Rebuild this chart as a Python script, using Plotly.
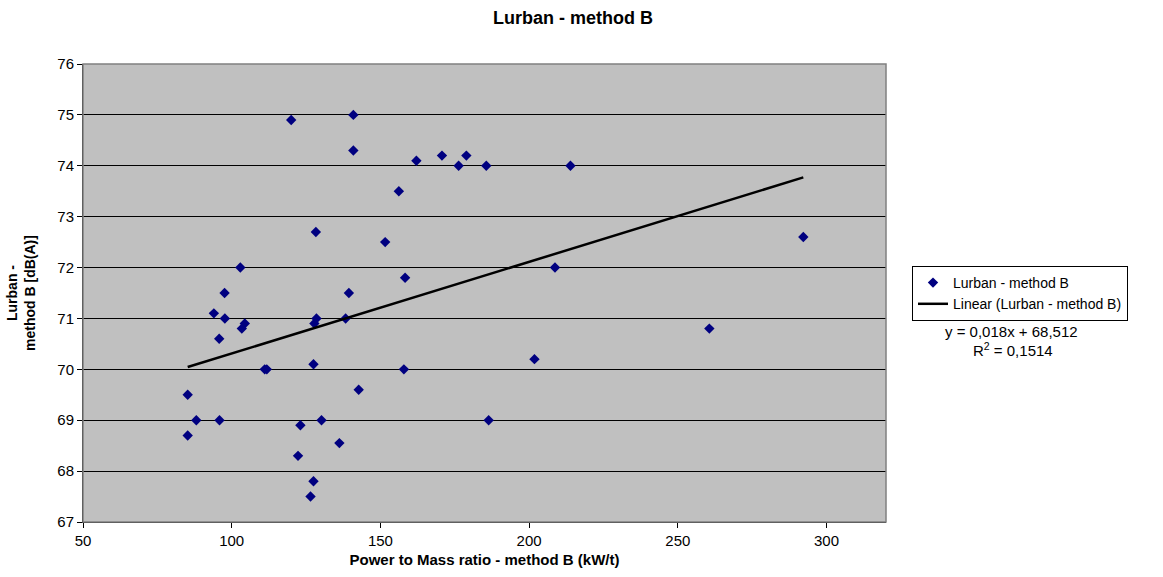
import numpy as np
import plotly.graph_objects as go

# Power to Mass ratio (kW/t) and Lurban (dB(A)) - method B
power_to_mass = [
    94.0, 97.7, 95.8, 103.4, 104.4, 111.1, 111.8, 128.5, 127.8, 138.3,
    127.5, 142.7, 85.2, 88.1, 95.9, 85.2, 123.1, 130.2, 122.3, 136.2,
    127.5, 126.5, 120.0, 140.9, 140.9, 128.3, 102.9, 97.6, 139.4, 151.6,
    156.2, 162.1, 170.7, 176.3, 178.9, 185.6, 213.9, 158.3, 208.7, 292.2,
    157.9, 201.8, 260.6, 186.4,
]
lurban = [
    71.1, 71.0, 70.6, 70.8, 70.9, 70.0, 70.0, 71.0, 70.9, 71.0,
    70.1, 69.6, 69.5, 69.0, 69.0, 68.7, 68.9, 69.0, 68.3, 68.55,
    67.8, 67.5, 74.9, 75.0, 74.3, 72.7, 72.0, 71.5, 71.5, 72.5,
    73.5, 74.1, 74.2, 74.0, 74.2, 74.0, 74.0, 71.8, 72.0, 72.6,
    70.0, 70.2, 70.8, 69.0,
]

# Linear trend line as given by the chart's equation
slope = 0.018
intercept = 68.512
r_squared = 0.1514

x_ticks = [50, 100, 150, 200, 250, 300]
y_ticks = [67, 68, 69, 70, 71, 72, 73, 74, 75, 76]

FONT = "Arial, Liberation Sans, sans-serif"

trend_x = np.array([min(power_to_mass), max(power_to_mass)])
trend_y = slope * trend_x + intercept

fig = go.Figure()
fig.add_trace(go.Scatter(
    x=power_to_mass, y=lurban, mode="markers",
    name="Lurban - method B",
    marker=dict(symbol="diamond", size=8, color="#000080"),
))
fig.add_trace(go.Scatter(
    x=trend_x, y=trend_y, mode="lines",
    name="Linear (Lurban - method B)",
    line=dict(color="black", width=2.5),
))

fig.update_layout(
    width=1163, height=577,
    margin=dict(l=83, r=277, t=64, b=55),
    paper_bgcolor="white",
    plot_bgcolor="#C0C0C0",
    font=dict(family=FONT, size=14, color="black"),
    title=dict(text="<b>Lurban - method B</b>", x=573 / 1163, xanchor="center",
               y=1 - 18 / 577, yanchor="middle", font=dict(size=18)),
    showlegend=True,
    legend=dict(
        x=(912 - 83) / 803, y=(522 - 266) / 458, xanchor="left", yanchor="top",
        bgcolor="white", bordercolor="black", borderwidth=1,
        font=dict(size=14), tracegroupgap=0, itemwidth=30,
    ),
    xaxis=dict(
        range=[50, 320], tickvals=x_ticks, showgrid=False, zeroline=False,
        showline=True, linecolor="black", linewidth=1,
        ticks="outside", ticklen=5, tickcolor="black",
        tickfont=dict(size=15),
        title=dict(text="<b>Power to Mass ratio - method B (kW/t)</b>", font=dict(size=15), standoff=6),
    ),
    yaxis=dict(
        range=[67, 76], tickvals=y_ticks, showgrid=True, gridcolor="black", gridwidth=1,
        zeroline=False, showline=True, linecolor="black", linewidth=1,
        ticks="outside", ticklen=5, tickcolor="black",
        tickfont=dict(size=15),
        title=dict(text="<b>Lurban -<br>method B [dB(A)]</b>", font=dict(size=14), standoff=18),
    ),
    shapes=[dict(type="rect", xref="paper", yref="paper", x0=0, y0=0, x1=1, y1=1,
                 line=dict(color="#808080", width=1.5), layer="above")],
    annotations=[
        dict(text=f"y = {str(slope).replace('.', ',')}x + {str(intercept).replace('.', ',')}",
             xref="paper", yref="paper", x=(1011 - 83) / 803, y=(522 - 331) / 458,
             xanchor="center", yanchor="middle", showarrow=False, font=dict(size=15)),
        dict(text=f"R<sup>2</sup> = {str(r_squared).replace('.', ',')}",
             xref="paper", yref="paper", x=(1013 - 83) / 803, y=(522 - 349) / 458,
             xanchor="center", yanchor="middle", showarrow=False, font=dict(size=15)),
    ],
)

fig.write_html("out.html")
